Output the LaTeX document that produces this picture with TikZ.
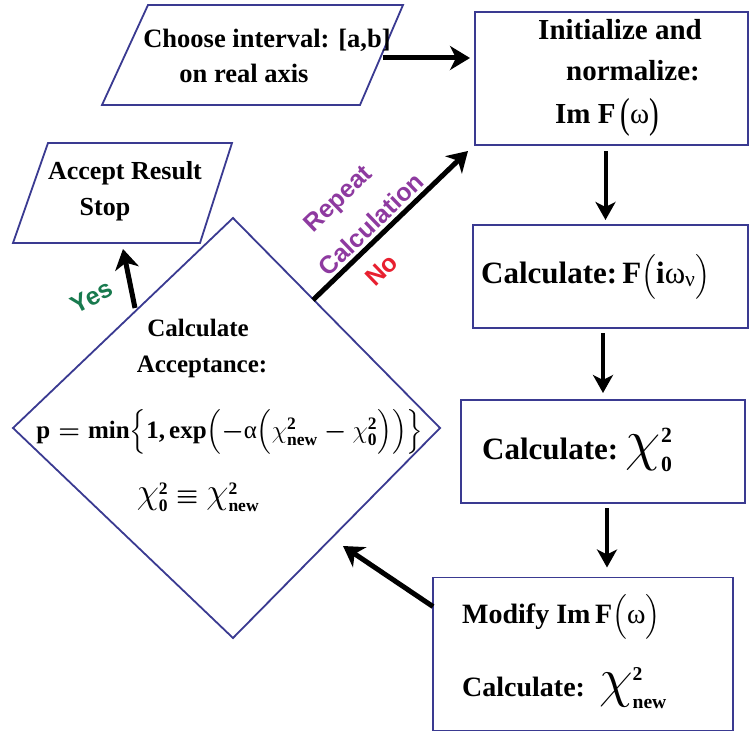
\documentclass[tikz,border=0pt]{standalone}
\usepackage{amsmath}
\usepackage{graphicx}
\usepackage{fontspec}
\setmainfont{Liberation Serif}
\newfontfamily\lsans{Liberation Sans}
\usetikzlibrary{arrows.meta,calc}
\definecolor{bcol}{RGB}{58,58,145}
\definecolor{labgreen}{RGB}{24,122,78}
\definecolor{labpurple}{RGB}{142,58,160}
\definecolor{labred}{RGB}{232,32,48}
\newcommand{\fz}[1]{\bfseries\boldmath\fontsize{#1}{#1}\selectfont}
\newcommand{\gk}[1]{\text{\mdseries #1}}
\newcommand{\chis}{\text{\unboldmath$\chi$}}
\newcommand{\bigchi}[1]{\text{\unboldmath\scalebox{#1}{$\chi$}}}
\newcommand{\tallp}[1]{\text{\mdseries\raisebox{-0.12em}{\scalebox{1}[1.45]{#1}}}}
\begin{document}
\begin{tikzpicture}[x=1pt,y=-1pt,
  shp/.style={draw=bcol,line width=1.8pt,line join=miter},
  box/.style={shp,rectangle,inner sep=0pt,outer sep=0pt},
  tx/.style={inner sep=0pt,align=center},
  arr/.style={line width=5pt,-{Stealth[length=20pt,width=24pt,inset=6pt]}},
  varr/.style={line width=4pt,-{Stealth[length=18pt,width=20pt,inset=5pt]}},
  lab/.style={inner sep=0pt,font=\lsans\bfseries\fontsize{25}{27}\selectfont}]
\useasboundingbox (0,0) rectangle (751,733);
\fill[white] (0,0) rectangle (751,733);

% shapes
\draw[shp] (148,5) -- (403,5) -- (360,105) -- (102,105) -- cycle;
\draw[shp] (48,143) -- (232,143) -- (200,243) -- (13,243) -- cycle;
\coordinate (dTop) at (233,218);
\coordinate (dRight) at (440,428);
\coordinate (dBot) at (233,638);
\coordinate (dLeft) at (13,428);
\draw[shp] (dTop) -- (dRight) -- (dBot) -- (dLeft) -- cycle;

\node[box,minimum width=273pt,minimum height=133pt] (init) at (611.5,78.5) {};
\node[box,minimum width=275pt,minimum height=103pt] (calcF) at (610.5,276.5) {};
\node[box,minimum width=284pt,minimum height=103pt] (chi0) at (603,451.5) {};
\node[box,minimum width=300pt,minimum height=153pt] (mod) at (583,654) {};

% texts
\node[tx,font=\fz{26.5}] (t1a) at (267,40) {Choose interval: [a,b]};
\node[tx,font=\fz{26.5}] (t1b) at (244,73) {on real axis};
\node[tx,font=\fz{29}] (t2a) at (620,30) {Initialize and};
\node[tx,font=\fz{29}] (t2b) at (633,71) {normalize:};
\node[tx,font=\fz{29}] (t2c) at (607,117) {Im\ F\,\tallp{(}\gk{ω}\tallp{)}};
\node[tx,font=\fz{26}] (t3a) at (125,173) {Accept Result};
\node[tx,font=\fz{26}] (t3b) at (105,210) {Stop};

\node[tx,font=\fz{25}] (d1) at (198,328) {Calculate};
\node[tx,font=\fz{25}] (d2) at (202,367) {Acceptance:};
\node[tx,font=\fz{25}] (d3) at (230,432) {$\text{p} = \text{min}\Bigl\{\text{1,\,exp}\Bigl(-\gk{α}\Bigl(\chis^{\text{2}}_{\text{new}} - \chis^{\text{2}}_{\text{0}}\Bigr)\Bigr)\Bigr\}$};
\node[tx,font=\fz{25}] (d4) at (198,497) {$\bigchi{1.45}^{\text{2}}_{\text{0}} \equiv \bigchi{1.45}^{\text{2}}_{\text{new}}$};

\node[tx,font=\fz{31},anchor=west] (c3) at (481,277) {Calculate:\,F$\Bigl(\text{i}\gk{ω}_{\gk{ν}}\Bigr)$};
\node[tx,font=\fz{31},anchor=west] (c4) at (482,450) {Calculate:\ $\bigchi{2.3}^{\text{2}}_{\text{0}}$};
\node[tx,font=\fz{28},anchor=west] (m1) at (462,617) {Modify Im\,F$\Bigl(\gk{ω}\Bigr)$};
\node[tx,font=\fz{28},anchor=west] (m2) at (462,688) {Calculate:\ \ $\bigchi{2.2}^{\text{2}}_{\text{new}}$};

% connectors
\coordinate (p1e) at (383,58);
\draw[arr,shorten >=5pt] (p1e) -- (p1e -| init.west);
\draw[varr,shorten <=6pt,shorten >=5pt] ([xshift=-6pt]init.south) -- ([xshift=-6pt]init.south |- calcF.north);
\draw[varr,shorten <=5pt,shorten >=7pt] (chi0.north |- calcF.south) -- (chi0.north);
\draw[varr,shorten <=5pt,shorten >=10pt] ([xshift=4pt]chi0.south) -- ([xshift=4pt]chi0.south |- mod.north);
\coordinate (mOut) at ($(mod.north west)!0.19!(mod.south west)$);
\coordinate (dIn) at (343,546);
\draw[arr] (mOut) -- (dIn);
\coordinate (yesS) at (135,308);
\coordinate (yesE) at (123,249);
\draw[arr] (yesS) -- (yesE);
\coordinate (noS) at (313,300);
\coordinate (noE) at (468,151);
\draw[arr] (noS) -- (noE);

% labels
\node[lab,text=labgreen,rotate=28] (yes) at (92,297) {Yes};
\node[lab,text=labpurple,rotate=44] (rep) at (339,200) {Repeat};
\node[lab,text=labpurple,rotate=44] (calc) at (371,224) {Calculation};
\node[lab,text=labred,rotate=44] (no) at (382,270) {No};
\end{tikzpicture}
\end{document}
